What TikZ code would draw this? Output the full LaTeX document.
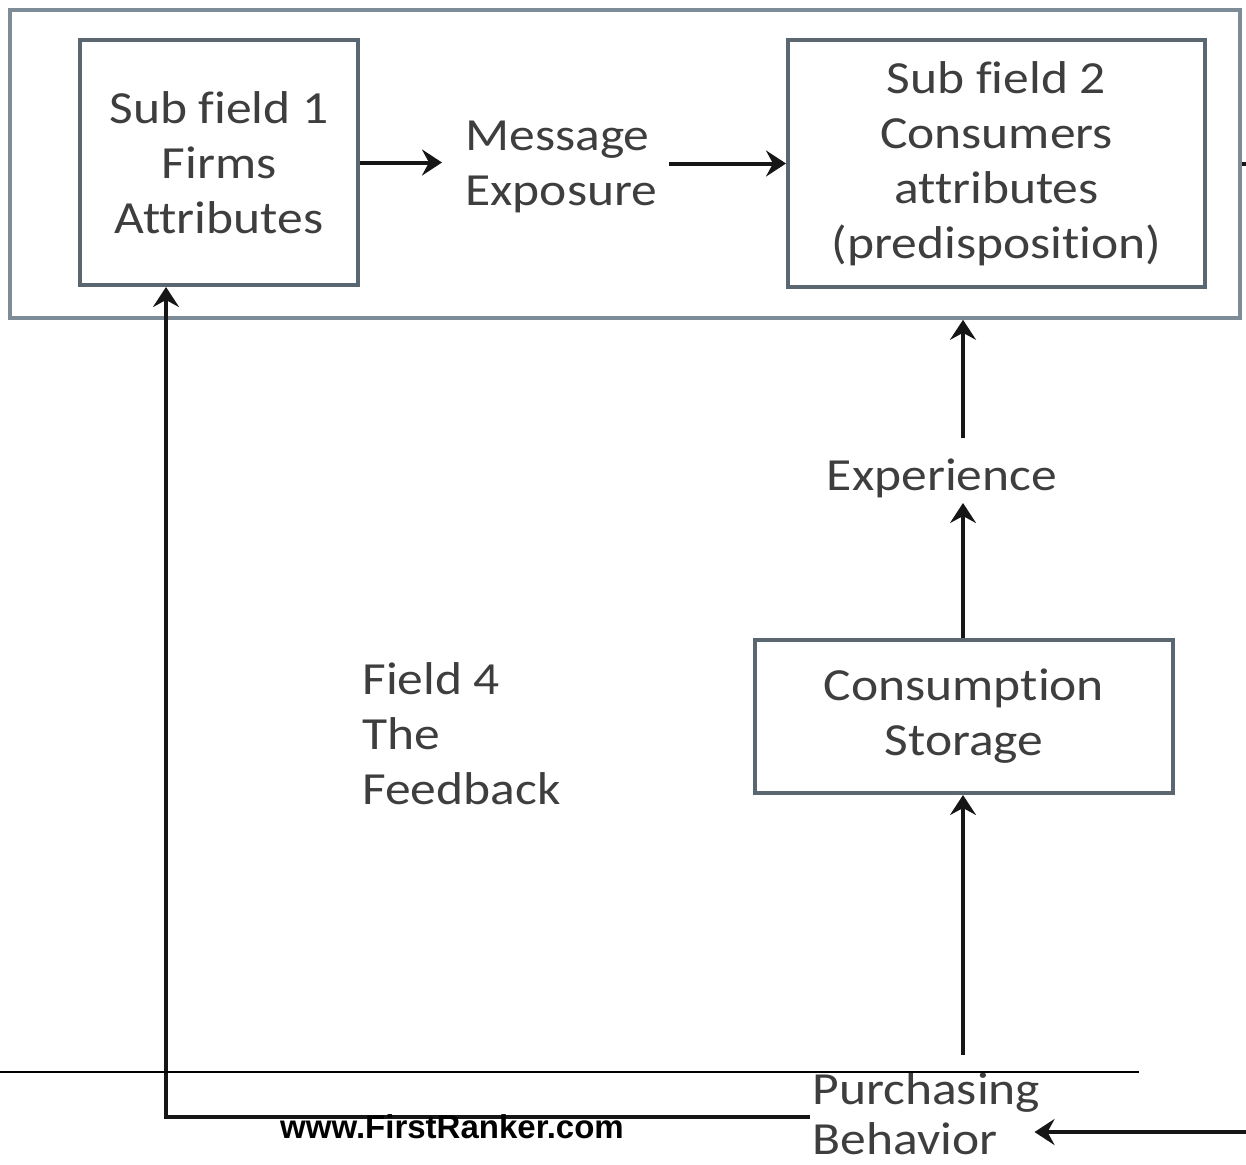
\documentclass[tikz,border=0pt]{standalone}
\usepackage{fontspec}
\usetikzlibrary{arrows.meta,calc}
\newfontfamily\diagfont{Carlito}[FakeStretch=1.12,Ligatures=NoCommon]
\newfontfamily\webfont{Liberation Sans}
\definecolor{boxline}{RGB}{90,102,112}
\definecolor{outerline}{RGB}{125,140,150}
\definecolor{textc}{RGB}{62,62,62}
\definecolor{arrowc}{RGB}{22,22,22}
\tikzset{
  lbl/.style={font=\diagfont\fontsize{23}{27.5}\selectfont, text=textc, inner sep=0pt},
  boxnode/.style={draw=boxline, line width=2pt, fill=white, align=center,
    font=\diagfont\fontsize{23}{27.5}\selectfont, text=textc, inner sep=0pt},
  arr/.style={draw=arrowc, line width=2pt,
    -{Stealth[length=10pt,width=13pt,inset=3.5pt]}},
}
\begin{document}
\begin{tikzpicture}[x=0.5pt,y=-0.5pt]
\useasboundingbox (0,0) rectangle (1246,1164);

% outer field frame
\node[draw=outerline, line width=1.8pt, minimum width=615pt, minimum height=154pt,
      inner sep=0pt] (outer) at (625,164) {};

% boxes
\node[boxnode, minimum width=139pt, minimum height=122.5pt] (b1) at (219,162.5)
  {Sub field 1\\Firms\\Attributes};
\node[boxnode, minimum width=208.5pt, minimum height=123.5pt] (b2) at (996.5,163.5)
  {Sub field 2\\Consumers\\attributes\\(predisposition)};
\node[boxnode, minimum width=209pt, minimum height=76.5pt] (cons) at (964,716.5)
  {Consumption\\Storage};

% free labels
\node[lbl, anchor=west, align=left] (msg) at (465,167) {Message\\Exposure};
\node[lbl] (exp) at (942,478) {Experience};
\node[lbl, anchor=west, align=left] (fld) at (362,734) {Field 4\\The\\Feedback};
\node[lbl, anchor=west, align=left, font=\diagfont\fontsize{23}{25}\selectfont]
  (pb) at (812,1114) {Purchasing\\Behavior};

% free ends of connectors
\coordinate (expTop) at (963,438);
\coordinate (pbTop) at (963,1055);
\coordinate (fbStart) at (810,1117);
\coordinate (inR) at (1246,1132);
\coordinate (ruleL) at (0,1072);
\coordinate (ruleR) at (1139,1072);

% connectors
\draw[arr] (b1.east) -- ($(b1.east -| msg.west)+(-23,0)$);
\draw[arr] ($(b2.west -| msg.east)+(11,0)$) -- (b2.west);
\draw[arrowc, line width=2pt] (outer.east |- b2.east) -- ++(8,0);
\draw[arr] (expTop) -- (expTop |- outer.south);
\draw[arr] ($(cons.north)+(-1,0)$) -- ++(0,-135);
\draw[arr] (pbTop) -- (pbTop |- cons.south);
\draw[arr] (fbStart) -| ($(b1.south west)+(88,0)$);
\draw[arr] (inR) -- ($(inR -| pb.east)+(-6,0)$);

% page rule and footer
\draw[black, line width=1pt] (ruleL) -- (ruleR);
\node[font=\webfont\bfseries\fontsize{16.5}{18}\selectfont, text=black, inner sep=0pt]
  (web) at (452,1127) {www.FirstRanker.com};
\end{tikzpicture}
\end{document}
